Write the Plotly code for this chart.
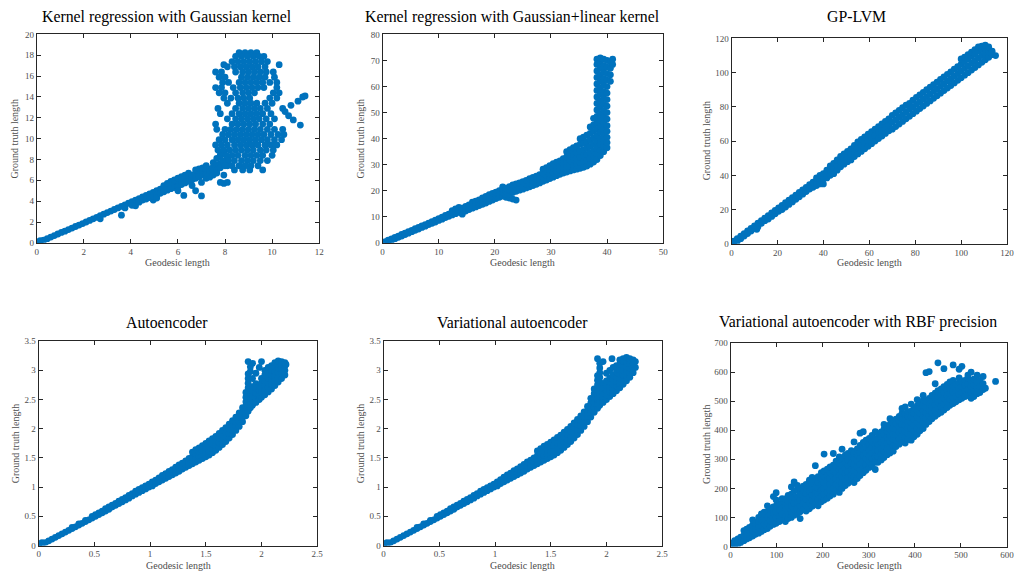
import plotly.graph_objects as go

W, H = 1023, 581

# ---------------- data ----------------
# Column form: (x, y1, y2, ...) ; row form: (y, x1, x2, ...)

# Panel 1: Kernel regression with Gaussian kernel
kg_cols = [
    (0.05,0.0,0.1),(0.15,0.1,0.2),(0.3,0.25),(0.45,0.4),(0.6,0.55),(0.75,0.7),(0.9,0.85),(1.05,1.0),(1.2,1.12),
    (1.35,1.27),(1.5,1.42),(1.65,1.57),(1.8,1.7),(1.95,1.85),(2.1,2.0),(2.25,2.15),(2.4,2.3),(2.55,2.45),
    (2.7,2.6,2.3),(2.85,2.75),(3.0,2.9),(3.15,3.05),(3.3,3.2),(3.45,3.35),(3.6,3.5,2.65),(3.75,3.65,3.35),
    (3.9,3.8),(4.05,3.95,3.6),(4.2,4.1,3.55),(4.35,4.25,3.9),(4.5,4.4,4.1),(4.65,4.55,4.2),(4.8,4.7,4.35),
    (4.95,4.85,4.1,4.5),(5.1,5.0,4.6,4.3),(5.25,5.15,4.75),(5.4,5.3,4.9,5.5),(5.55,5.45,5.05,5.7),
    (5.7,5.6,5.2,5.9),(5.85,5.75,5.3,6.05),(6.0,5.9,5.4,6.2,5.0),(6.15,6.05,5.6,6.35),(6.25,4.55),
    (6.3,6.2,5.75,6.5),(6.45,6.35,5.9,6.7),(6.6,6.5,6.05,5.5),(6.75,6.65,6.2,7.0,5.0),(6.9,6.8,6.35,7.1),
    (7.0,4.5,5.8),(7.05,6.9,6.5,7.2),(7.2,7.0,6.6,6.2,7.4),(7.35,7.1,6.8,6.3),(7.5,7.3,6.9,7.7,6.5),
    (7.65,7.5,7.0,8.1,6.7),(7.8,7.6,8.4,5.8,7.2),(7.95,7.8,8.8,5.7,6.5),(8.1,5.8,7.4,8.0),
]
kg_rows = [
    (18.25,8.6,8.85,9.1,9.35),
    (17.9,8.45,8.7,8.95,9.2,9.45,9.65),
    (17.4,8.3,8.55,8.8,9.05,9.3,9.55,9.8),
    (17.1,10.3,7.95),
    (16.9,8.1,8.4,8.65,8.9,9.15,9.4,9.7),
    (16.4,7.6,7.85,8.45,8.75,9.0,9.25,9.5,9.75,10.05),
    (15.9,7.75,8.0,8.7,8.95,9.2,9.45,9.7,10.1),
    (15.4,7.9,8.15,8.6,8.85,9.1,9.35,9.6,9.9,10.2),
    (14.9,7.6,7.85,8.35,8.65,8.9,9.15,9.4,9.65,10.2),
    (14.4,7.75,8.0,8.45,8.75,9.0,9.25,10.05,10.3),
    (13.9,7.95,8.25,8.55,8.8,9.05,9.9,10.2),
    (13.4,8.1,8.6,8.85,9.1,9.35,9.7,10.0),
    (12.9,7.7,8.45,8.75,9.0,9.25,9.5,9.8,10.45),
    (12.4,7.8,8.3,8.6,8.85,9.1,9.35,9.6,9.95),
    (11.9,8.1,8.45,8.7,8.95,9.2,9.45,9.75,10.1),
    (11.4,7.6,8.3,8.55,8.8,9.05,9.3,9.6,9.9),
    (10.9,7.65,8.0,8.25,8.5,8.75,9.0,9.25,9.5,9.8,10.1,10.45),
    (10.4,7.9,8.15,8.4,8.65,8.9,9.15,9.4,9.65,9.95,10.25,10.5),
    (9.9,7.75,8.0,8.3,8.55,8.8,9.05,9.3,9.55,9.8,10.1,10.4),
    (9.4,7.6,7.85,8.1,8.4,8.65,8.9,9.15,9.4,9.7,9.95,10.2),
    (8.9,7.7,7.95,8.2,8.45,8.7,8.95,9.2,9.5,9.75,10.05),
    (8.4,7.8,8.05,8.3,8.55,8.85,9.1,9.35,9.6,10.0),
    (7.9,7.9,8.15,8.4,8.7,8.95,9.2,9.5,9.8),
    (7.4,8.0,8.3,8.6,8.85,9.1,9.4),
    (7.0,8.4,8.75,9.05,9.6),
    (12.2,10.7),(13.2,10.8),(13.6,11.1),(14.0,11.3),(14.1,11.4),(11.3,11.2),(11.8,10.9),(12.6,10.55),
]

# Panel 2: Kernel regression with Gaussian+linear kernel
gl_cols = [
    (0.5,0.0,0.5),(1.0,0.4,1.0),(1.6,1.0,1.5),(2.2,1.6,2.1),(2.8,2.1,2.6),(3.4,2.6,3.2),(4.0,3.2,3.7),
    (4.6,3.7,4.3),(5.2,4.3,4.8),(5.8,4.8,5.4),(6.4,5.3,5.9),(7.0,5.9,6.5),(7.6,6.4,7.0),(8.2,7.0,7.6),
    (8.8,7.5,8.1),(9.4,8.0,8.7),(10.0,8.6,9.3),(10.6,9.1,9.9),(11.2,9.7,10.5),(11.8,10.2,11.0),
    (12.4,10.7,11.6,12.4),(13.0,11.2,12.2,13.0),(13.6,11.7,12.8,13.6),(14.2,11.0,12.3,13.3),
    (14.8,12.2,13.2,14.0),(15.4,12.8,13.8,14.6),(16.0,13.3,14.4,15.6),(16.6,13.8,15.0,16.0),
    (17.2,14.3,15.5,16.5),(17.8,14.8,16.0,17.3),(18.4,15.3,16.6,17.8),(19.0,15.9,17.2,18.5),
    (19.6,16.4,17.8,19.0),(20.2,17.0,18.3,19.5),(20.8,17.5,18.8,20.0),(21.4,17.9,19.3,20.6,21.5),
    (22.0,17.5,18.6,19.8,21.0),(22.6,17.2,18.8,20.3,21.6),(23.2,16.8,19.3,20.8,22.2),(23.8,16.4,19.8,21.3,22.6),
    (24.4,20.2,21.7,23.0),(25.0,20.6,22.1,23.5),(25.6,21.1,22.6,24.0),(26.2,21.5,23.0,24.6),
    (26.8,22.0,23.5,25.1),(27.4,22.5,24.0,25.6),(28.0,23.0,24.6,26.2),(28.6,23.6,25.2,26.8,28.3),
    (29.2,24.1,25.8,27.4,28.9),(29.8,24.7,26.4,28.0,29.6),(30.4,25.2,27.0,28.7,30.4),(31.0,25.8,27.5,29.3,31.0),
    (31.6,26.3,28.0,29.8,31.5),(32.2,26.8,28.6,30.4,32.3),(32.8,27.2,29.1,31.0,33.0,35.0),
    (33.4,27.6,29.5,31.5,33.6,35.8),(34.0,28.0,30.0,32.0,34.2,36.5),(34.6,28.3,30.4,32.5,34.8,37.2),
    (35.2,28.6,30.8,33.0,35.3,37.8,40.0),(35.8,29.0,31.2,33.5,35.8,38.3,40.6),
    (36.4,29.5,31.7,34.0,36.4,38.8,41.3),(37.0,30.2,32.4,34.6,37.0,39.5,42.0,44.5),
    (37.6,31.0,33.2,35.4,37.8,40.3,42.8,45.3,47.8),
    (38.2,32.0,34.2,36.4,38.8,41.2,43.6,46.0,48.5,51.0,53.5,56.0,58.5,61.0,63.5,66.0,68.5,70.5),
    (38.8,33.5,35.6,37.8,40.0,42.4,44.8,47.2,49.6,52.0,54.5,57.0,59.5,62.0,64.5,67.0,69.5,71.0),
    (39.4,35.0,37.0,39.2,41.4,43.6,46.0,48.4,50.8,53.2,55.6,58.0,60.5,63.0,65.5,68.0,70.5),
    (40.0,36.5,38.5,40.5,42.8,45.0,47.5,50.0,52.5,55.0,57.5,60.0,62.5,65.0,67.5,70.0),
    (40.6,62.0,64.5,67.0,69.5),(41.0,68.5,70.5),
]

# Panel 3: GP-LVM
gp_cols = [
    (0.0,0.0,1.0),(1.0,0.0,1.5),(2.5,1.5,3.0),(4.0,3.0,4.5),(5.5,4.5,6.0),(7.0,6.0,7.5),(8.5,7.5,9.0),
    (10.0,9.0,10.5),(11.0,8.5),(11.5,10.0,12.0),(13.0,12.0,13.5),(14.5,13.5,15.0),(16.0,14.5,16.5),
    (17.5,16.0,18.0),(19.0,17.5,19.5),(20.5,19.0,21.0),(22.0,20.0,22.5),(23.5,21.5,24.0),(25.0,23.0,25.5),
    (26.5,24.5,27.0),(28.0,26.0,28.5),(29.5,27.5,30.0),(31.0,29.0,31.5),(32.5,30.5,33.0),(34.0,32.0,34.5),
    (35.5,33.0,36.0),(37.0,34.0,36.5,38.5),(38.5,35.0,38.0,40.0),(40.0,35.0,38.0,41.0),(41.5,38.5,41.5,43.0),
    (43.0,40.0,43.0,45.5),(44.5,41.0,44.0,47.0),(46.0,43.0,46.0,49.0),(47.5,45.0,48.0,51.0),
    (49.0,46.5,49.5,52.5),(50.5,48.0,51.0,54.0),(52.0,49.0,52.5,55.5),(53.5,51.0,54.0,57.5),
    (55.0,52.5,56.0,59.5),(56.5,54.0,57.5,61.0),(58.0,55.5,59.0,62.5),(59.5,57.0,60.5,64.0),
    (61.0,58.5,62.0,65.5),(62.5,60.0,63.5,67.0),(64.0,61.5,65.0,68.5),(65.5,63.0,66.5,70.0),
    (67.0,64.5,68.0,71.5),(68.5,66.0,69.5,73.0),(70.0,67.0,71.0,75.0),(71.5,68.5,72.5,76.5),
    (73.0,70.0,74.0,78.0),(74.5,71.5,75.5,79.5),(76.0,73.0,77.0,81.0),(77.5,74.5,78.5,82.0),
    (79.0,76.0,80.0,84.0),(80.5,77.5,81.5,85.5),(82.0,79.0,83.0,87.0),(83.5,80.5,84.5,88.5),
    (85.0,82.0,86.0,90.0),(86.5,83.5,87.5,91.5),(88.0,85.0,89.0,93.0),(89.5,86.5,90.5,94.5),
    (91.0,88.0,92.0,96.0),(92.5,89.5,93.5,97.5),(94.0,91.0,95.0,99.0),(95.5,92.5,96.5,100.5),
    (97.0,94.0,98.0,102.0),(98.5,95.5,99.5,103.5),(100.0,97.0,101.0,105.0,108.0),
    (101.5,98.5,102.5,106.5,109.0),(103.0,100.0,104.0,108.0,110.5),(104.5,101.5,105.5,109.5,112.0),
    (106.0,103.0,107.0,111.0,113.5),(107.5,104.5,108.5,112.5,115.0),(109.0,106.0,110.0,113.5,115.5),
    (110.5,107.5,111.0,114.0,116.0),(112.0,109.0,112.0,115.0),(113.5,110.5,112.5),(115.0,110.0),
]

# Panel 4: Autoencoder
ae_cols = [
    (0.0,0.0,0.03),(0.03,0.02,0.05),(0.06,0.05),(0.09,0.08),(0.12,0.11),(0.15,0.14),(0.18,0.17),(0.21,0.2),
    (0.24,0.23),(0.27,0.26),(0.30,0.29,0.31),(0.33,0.32),(0.36,0.35,0.37),(0.39,0.38),(0.42,0.41,0.43),
    (0.45,0.44),(0.48,0.47,0.5),(0.51,0.5,0.53),(0.54,0.53,0.56),(0.57,0.56,0.59),(0.60,0.59,0.63),
    (0.63,0.62,0.66),(0.66,0.66,0.69),(0.69,0.69,0.72),(0.72,0.72,0.76),(0.75,0.75,0.79),(0.78,0.78,0.82),
    (0.81,0.81,0.86),(0.84,0.85,0.89),(0.87,0.88,0.93),(0.90,0.91,0.96),(0.93,0.94,0.99),(0.96,0.97,1.02),
    (0.99,1.0,1.05),(1.02,1.02,1.06,1.09),(1.05,1.06,1.1,1.12),(1.08,1.09,1.13,1.16),(1.11,1.12,1.16,1.2),
    (1.14,1.15,1.2,1.23),(1.17,1.18,1.23,1.27),(1.20,1.21,1.26,1.3),(1.23,1.24,1.29,1.34),
    (1.26,1.27,1.33,1.38),(1.29,1.31,1.36,1.41),(1.32,1.34,1.39,1.45),(1.35,1.37,1.43,1.49),
    (1.38,1.4,1.46,1.52,1.6),(1.41,1.43,1.5,1.56,1.64),(1.44,1.46,1.53,1.6,1.67),(1.47,1.49,1.56,1.63,1.71),
    (1.50,1.52,1.59,1.67,1.75),(1.53,1.55,1.62,1.7,1.79),(1.56,1.59,1.66,1.74,1.83),(1.59,1.63,1.71,1.79,1.87),
    (1.62,1.68,1.76,1.84,1.92),(1.65,1.73,1.81,1.89,1.97),(1.68,1.78,1.86,1.94,2.02),(1.71,1.84,1.92,2.0,2.08),
    (1.74,1.9,1.98,2.06,2.14),(1.77,1.97,2.05,2.12,2.2),(1.80,2.04,2.12,2.2,2.27),(1.83,2.12,2.2,2.28,2.36),
    (1.86,2.22,2.3,2.38,2.46,2.54,2.62),(1.88,2.3,2.38,2.46,2.7,2.78,2.86,2.94,3.15),
    (1.90,2.36,2.44,2.52,2.6,2.98,3.06),(1.92,2.4,2.48,2.56,2.64,2.72,2.86,3.12),
    (1.95,2.45,2.53,2.61,2.69,2.77,2.95),(1.98,2.5,2.58,2.66,2.74,3.05),
    (2.00,2.54,2.62,2.7,2.78,2.86,3.15),(2.03,2.58,2.66,2.74,2.82,2.92,3.0),
    (2.06,2.63,2.71,2.79,2.87,2.96,3.05),(2.09,2.68,2.76,2.84,2.92,3.0,3.08),
    (2.12,2.74,2.82,2.9,2.98,3.06,3.13),(2.15,2.8,2.88,2.96,3.04,3.1,3.16),
    (2.18,2.86,2.94,3.02,3.1,3.15),(2.21,2.92,3.0,3.08,3.13),(2.22,3.1),
]

# Panel 5: Variational autoencoder
vae_cols = [
    (0.0,0.0,0.03),(0.03,0.02,0.05),(0.06,0.05),(0.09,0.08),(0.12,0.11),(0.15,0.14),(0.18,0.17),(0.21,0.2),
    (0.24,0.23),(0.27,0.26),(0.30,0.29,0.31),(0.33,0.32),(0.36,0.35,0.37),(0.39,0.38),(0.42,0.41,0.43),
    (0.45,0.44),(0.48,0.47,0.5),(0.51,0.5,0.53),(0.54,0.53,0.56),(0.57,0.56,0.59),(0.60,0.59,0.63),
    (0.63,0.62,0.66),(0.66,0.66,0.69),(0.69,0.69,0.72),(0.72,0.72,0.76),(0.75,0.75,0.79),(0.78,0.78,0.82),
    (0.81,0.81,0.86),(0.84,0.85,0.89),(0.87,0.88,0.93),(0.90,0.91,0.96),(0.93,0.94,0.99),(0.96,0.97,1.02),
    (0.99,1.0,1.05),(1.02,1.02,1.06,1.09),(1.05,1.06,1.1,1.13),(1.08,1.09,1.13,1.17),(1.11,1.12,1.17,1.21),
    (1.14,1.15,1.2,1.24),(1.17,1.18,1.23,1.28),(1.20,1.21,1.26,1.31),(1.23,1.24,1.3,1.35),
    (1.26,1.27,1.33,1.39),(1.29,1.31,1.37,1.43),(1.32,1.34,1.4,1.46),(1.35,1.37,1.44,1.5),
    (1.38,1.4,1.47,1.54,1.62),(1.41,1.43,1.5,1.58,1.66),(1.44,1.46,1.54,1.62,1.7),(1.47,1.49,1.57,1.65,1.73),
    (1.50,1.52,1.6,1.68,1.77),(1.53,1.55,1.63,1.72,1.81),(1.56,1.59,1.67,1.76,1.85),(1.59,1.63,1.72,1.81,1.89),
    (1.62,1.68,1.77,1.86,1.94),(1.65,1.73,1.82,1.91,1.99),(1.68,1.78,1.87,1.96,2.04),(1.71,1.84,1.93,2.02,2.1),
    (1.74,1.9,1.99,2.08,2.16),(1.77,1.97,2.06,2.14,2.22),(1.80,2.04,2.13,2.21,2.29),(1.83,2.12,2.21,2.3,2.38),
    (1.86,2.2,2.28,2.36,2.44,2.52),(1.89,2.28,2.36,2.44,2.52,2.6,2.68),
    (1.92,2.35,2.43,2.51,2.59,2.67,2.75,2.83,2.91,3.2),(1.94,2.4,2.48,2.56,2.64,2.72,2.8,2.88,2.96,3.04,3.12),
    (1.97,2.45,2.53,2.61,2.69,2.77,3.15),(2.00,2.5,2.58,2.66,2.74,2.82,2.95),
    (2.03,2.55,2.63,2.71,2.79,2.87,3.0),(2.05,3.2),(2.06,2.6,2.68,2.76,2.84,2.92,3.05),
    (2.09,2.65,2.73,2.81,2.89,2.97,3.08),(2.12,2.7,2.78,2.86,2.94,3.02,3.1,3.18),
    (2.15,2.76,2.84,2.92,3.0,3.08,3.16,3.2),(2.18,2.82,2.9,2.98,3.06,3.14,3.22),
    (2.21,2.88,2.96,3.04,3.12,3.2),(2.24,2.96,3.04,3.12,3.18),(2.26,3.05,3.15),
]

# Panel 6: Variational autoencoder with RBF precision
rbf_cols = [
    (3,0,12),(9,4,20),(16,8,26),(22,14,32),(29,20,38,55),(35,26,44,60),(41,30,48,66),(48,36,55,74,92),
    (54,42,60,80),(61,46,66,86,100),(67,52,72,92,112),(73,58,78,98,118),(80,62,80,100,120,140),
    (86,70,90,110,130),(93,76,96,116,136,172),(99,80,100,120,140,160,185),(106,86,106,126,146),
    (112,92,112,132,152,165),(119,86,104,124,144,164),(125,96,116,136,156,176),(132,100,120,140,160,180,205),
    (138,108,128,148,168,190,222),(145,112,132,152,172,195,210),(151,96,120,140,160,180,200),
    (158,128,148,168,188,208),(164,122,142,162,182,202,214),(171,130,150,170,190,210,228),
    (177,138,158,178,198,218,238),(184,145,165,185,205,225,278),(190,140,160,180,200,220,240),
    (197,154,174,194,214,234,254),(203,160,180,200,220,240,260,318),(210,166,186,206,226,246,266),
    (216,174,194,214,234,254,274),(223,180,200,220,240,260,280,320),(229,194,214,234,254,274,294),
    (236,186,206,226,246,266,286,308),(242,200,220,240,260,280,300,335),(249,210,230,250,270,290,314),
    (255,218,238,258,278,298,320),(262,226,246,266,286,306,330),(268,220,242,262,282,302,322,360),
    (275,234,254,274,294,314,336),(281,244,264,284,304,324,348,390),(288,254,274,294,314,334,358,395),
    (294,262,282,302,322,342,366),(301,272,292,312,332,352,372),(307,282,302,322,342,362,382),
    (314,265,290,310,330,350,370,395),(320,290,310,330,350,370,388),(327,298,318,338,358,378,394),
    (333,306,326,346,366,386,404,420),(340,316,336,356,376,396,412),(346,322,342,362,382,402,420,440),
    (353,328,348,368,388,408,426),(359,344,364,384,404,424,438),(366,352,372,392,412,432,448),
    (372,360,380,400,420,440,458,475),(379,356,376,396,416,436,456,480),(385,368,388,408,428,448,464),
    (392,366,386,406,426,446,466,490),(398,378,398,418,438,458,474),(405,386,406,426,446,466,484,505),
    (411,398,418,438,458,478,492),(418,406,426,446,466,486,504,520),(424,420,440,460,480,500,598),
    (431,430,450,470,490,510,602),(437,440,460,480,500,520),(444,448,468,488,508,528,560),
    (450,456,476,496,516,536,632),(457,462,482,502,522,542),(463,470,490,510,530,550,612),
    (470,478,498,518,538,558),(476,486,506,526,546,566),(483,492,512,532,552,572,625),
    (489,498,518,538,558),(496,505,525,545,565,580,610),(502,510,530,550,570,620),(509,516,536,556,572),
    (515,520,540,560,580,590),(522,510,530,550,570,600),(528,516,536,556,576),(535,526,546,566,590),
    (541,530,550,572),(548,540,560,585),(553,545),(575,568),
]

panel_titles = [
    "Kernel regression with Gaussian kernel",
    "Kernel regression with Gaussian+linear kernel",
    "GP-LVM",
    "Autoencoder",
    "Variational autoencoder",
    "Variational autoencoder with RBF precision",
]
x_label = "Geodesic length"
y_label = "Ground truth length"

x_ranges = [(0, 12, 2), (0, 50, 10), (0, 120, 20), (0, 2.5, 0.5), (0, 2.5, 0.5), (0, 600, 100)]
y_ranges = [(0, 20, 2), (0, 80, 10), (0, 120, 20), (0, 3.5, 0.5), (0, 3.5, 0.5), (0, 700, 100)]


def from_cols(cols):
    xs, ys = [], []
    for c in cols:
        for v in c[1:]:
            xs.append(c[0])
            ys.append(v)
    return xs, ys


def from_rows(rows):
    xs, ys = [], []
    for r in rows:
        for v in r[1:]:
            xs.append(v)
            ys.append(r[0])
    return xs, ys


kx1, ky1 = from_cols(kg_cols)
kx2, ky2 = from_rows(kg_rows)
series = [
    (kx1 + kx2, ky1 + ky2),
    from_cols(gl_cols),
    from_cols(gp_cols),
    from_cols(ae_cols),
    from_cols(vae_cols),
    from_cols(rbf_cols),
]

# ---------------- layout geometry (pixels) ----------------
boxes = [  # (left, right, top, bottom)
    (35, 320, 30, 242),
    (384, 667, 30, 242),
    (736, 1014, 34, 243),
    (37, 318, 342, 550),
    (385, 666, 342, 550),
    (735, 1014, 344, 551),
]
title_pos = [(166, 12), (515, 12), (862, 12), (166, 323), (515, 323), (864, 323)]
xlab_pos = [(177, 262), (525, 262), (875, 262), (178, 570), (525, 570), (875, 570)]
ylab_pos = [(13, 136), (362, 136), (711, 138), (13, 446), (362, 446), (711, 447)]


def px(x):
    return x / W


def py(y):
    return 1 - y / H


SERIF = "Liberation Serif, DejaVu Serif, serif"
BLUE = "#0072BD"
AX = "#262626"
LBL = "#4d4d4d"

fig = go.Figure()
annotations = []
for i in range(6):
    xs, ys = series[i]
    sfx = "" if i == 0 else str(i + 1)
    fig.add_trace(go.Scatter(
        x=xs, y=ys, mode="markers",
        marker=dict(color=BLUE, size=6.8, line=dict(width=0)),
        xaxis="x" + sfx, yaxis="y" + sfx, showlegend=False, hoverinfo="skip",
    ))
    l, r, t, b = boxes[i]
    x0, x1, dx = x_ranges[i]
    y0, y1, dy = y_ranges[i]
    common = dict(showline=True, linecolor=AX, linewidth=1, mirror="allticks",
                  ticks="inside", ticklen=4, tickwidth=1, tickcolor=AX,
                  showgrid=False, zeroline=False,
                  tickfont=dict(family=SERIF, size=9, color=LBL))
    fig.update_layout(**{
        "xaxis" + sfx: dict(domain=[px(l), px(r)], range=[x0, x1], dtick=dx, tick0=0,
                            anchor="y" + sfx, **common),
        "yaxis" + sfx: dict(domain=[py(b), py(t)], range=[y0, y1], dtick=dy, tick0=0,
                            anchor="x" + sfx, **common),
    })
    tx, ty = title_pos[i]
    annotations.append(dict(text=panel_titles[i], x=px(tx), y=py(ty), xref="paper", yref="paper",
                            showarrow=False, xanchor="center", yanchor="middle",
                            font=dict(family=SERIF, size=15.8, color="#000000")))
    lx, ly = xlab_pos[i]
    annotations.append(dict(text=x_label, x=px(lx), y=py(ly), xref="paper", yref="paper",
                            showarrow=False, xanchor="center", yanchor="middle",
                            font=dict(family=SERIF, size=10, color=LBL)))
    vx, vy = ylab_pos[i]
    annotations.append(dict(text=y_label, x=px(vx), y=py(vy), xref="paper", yref="paper",
                            showarrow=False, xanchor="center", yanchor="middle", textangle=-90,
                            font=dict(family=SERIF, size=10, color=LBL)))

fig.update_layout(
    width=W, height=H, margin=dict(l=0, r=0, t=0, b=0),
    paper_bgcolor="white", plot_bgcolor="white",
    annotations=annotations, showlegend=False,
)

fig.write_html(
    "out.html",
    config={"displayModeBar": False},
    post_script="document.body.style.margin='0';document.body.style.padding='0';"
                "document.body.style.overflow='hidden';",
)
